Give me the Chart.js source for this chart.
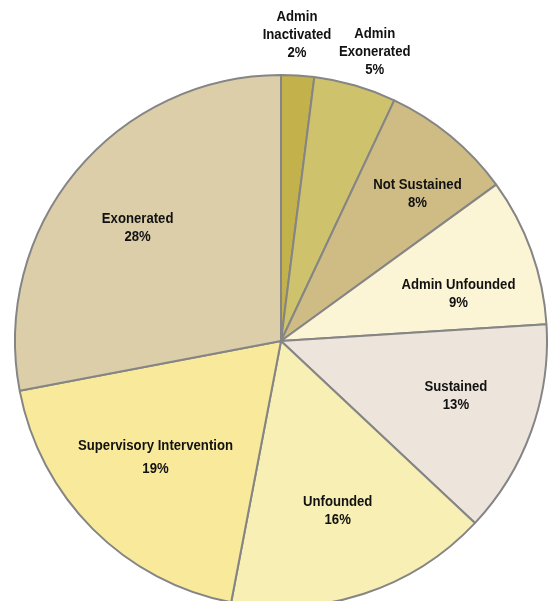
<!DOCTYPE html>
<html>
<head>
<meta charset="utf-8">
<script src="https://cdn.jsdelivr.net/npm/chart.js@4.4.1/dist/chart.umd.min.js"></script>
<style>
  html, body { margin: 0; padding: 0; background: #fff; overflow: hidden; }
  #wrap { position: absolute; left: 0; top: 0; width: 548px; height: 620px; }
</style>
</head>
<body>
<div id="wrap"><canvas id="pie" width="548" height="620"></canvas></div>
<script>
// slices clockwise from 12 o'clock
const categories = ['Admin Inactivated', 'Admin Exonerated', 'Not Sustained', 'Admin Unfounded',
    'Sustained', 'Unfounded', 'Supervisory Intervention', 'Exonerated'];
const percents = [2, 5, 8, 9, 13, 16, 19, 28];
const labelLines = [['Admin', 'Inactivated'], ['Admin', 'Exonerated'], ['Not Sustained'], ['Admin Unfounded'],
    ['Sustained'], ['Unfounded'], ['Supervisory Intervention'], ['Exonerated']];
const sliceColors = ['#c3b24c', '#cfc26d', '#cfbb84', '#fcf5d5', '#ede4dc', '#f8efb4', '#f9ea9b', '#dccea9'];

// label placement: angle (deg clockwise from top) and distance as fraction of radius
const labelAngle = [3.0, 18.0, 42.8, 75.2, 107.6, 161.6, 227.1, 308.1];
const labelDist = [1.15, 1.14, 0.755, 0.69, 0.69, 0.675, 0.644, 0.685];

const FONT = 'bold 14px "Liberation Sans", Arial, sans-serif';

const sliceLabels = {
    id: 'sliceLabels',
    afterDatasetsDraw(chart) {
        const ctx = chart.ctx;
        const arcs = chart.getDatasetMeta(0).data;
        ctx.save();
        ctx.font = FONT;
        // squeeze text to look like a condensed face
        const sx = 155 / ctx.measureText('Supervisory Intervention').width;
        ctx.fillStyle = '#111';
        ctx.textAlign = 'center';
        ctx.textBaseline = 'middle';
        arcs.forEach((arc, i) => {
            const a = labelAngle[i] * Math.PI / 180;
            const r = arc.outerRadius * labelDist[i];
            const cx = arc.x + r * Math.sin(a);
            const cy = arc.y - r * Math.cos(a);
            const lines = labelLines[i].concat([percents[i] + '%']);
            const gap = i === 6 ? 23 : 18;
            const top = cy - (lines.length - 1) * gap / 2;
            lines.forEach((t, j) => {
                ctx.save();
                ctx.translate(cx, top + j * gap);
                ctx.scale(sx, 1);
                ctx.fillText(t, 0, 0);
                ctx.restore();
            });
        });
        ctx.restore();
    }
};

new Chart(document.getElementById('pie'), {
    type: 'pie',
    data: {
        labels: categories,
        datasets: [{
            data: percents,
            backgroundColor: sliceColors,
            borderColor: '#858585',
            borderWidth: 2,
            hoverOffset: 0
        }]
    },
    options: {
        responsive: false,
        animation: false,
        layout: { padding: { left: 14, top: 74, right: 0, bottom: 12 } },
        plugins: {
            legend: { display: false },
            tooltip: { enabled: false }
        }
    },
    plugins: [sliceLabels]
});
</script>
</body>
</html>
